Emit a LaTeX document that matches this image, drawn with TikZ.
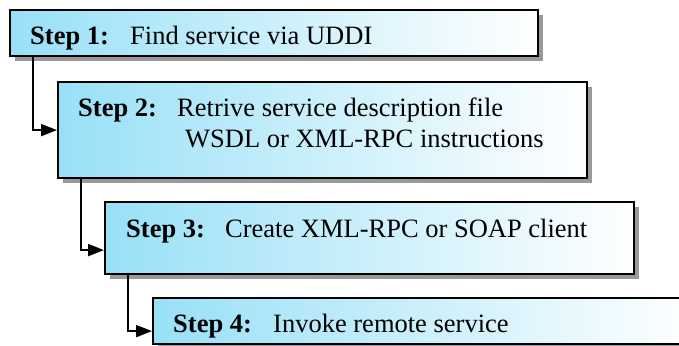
\documentclass[tikz,border=0pt]{standalone}
\usepackage{fontspec}
\setmainfont{Liberation Serif}
\usepackage{tikz}
\usetikzlibrary{arrows.meta,shadows}
\definecolor{stepcyan}{RGB}{152,224,247}

\begin{document}
\begin{tikzpicture}[x=1pt, y=-1pt,
  stepbox/.style={rectangle, draw, line width=2.2pt, anchor=north west, inner sep=0pt,
                  left color=stepcyan, right color=white,
                  drop shadow={shadow xshift=5pt, shadow yshift=-5pt, fill=black!40, opacity=1}},
  lbl/.style={anchor=base west, inner sep=0pt, font=\fontsize{26.5}{31}\selectfont},
  arr/.style={-{Triangle[length=16pt, width=12pt]}, line width=2pt}
]
\useasboundingbox (0,0) rectangle (679,345);
\clip (0,0) rectangle (679,345);

% Boxes
\node[stepbox, minimum width=528pt, minimum height=46pt] (s1) at (9,9)    {};
\node[stepbox, minimum width=529pt, minimum height=96pt] (s2) at (57,81)  {};
\node[stepbox, minimum width=529pt, minimum height=72pt] (s3) at (104,201) {};
\node[stepbox, minimum width=540pt, minimum height=46pt] (s4) at (152,297) {};

% Texts
\node[lbl] (h1) at (30,45)   {\textbf{Step 1:}};
\node[lbl] (d1) at (130,45)  {Find service via UDDI};
\node[lbl] (h2) at (78,116)  {\textbf{Step 2:}};
\node[lbl] (d2) at (177,116) {Retrive service description file};
\node[lbl] (e2) at (185,147) {WSDL or XML-RPC instructions};
\node[lbl] (h3) at (126,237) {\textbf{Step 3:}};
\node[lbl] (d3) at (225,237) {Create XML-RPC or SOAP client};
\node[lbl] (h4) at (173,332) {\textbf{Step 4:}};
\node[lbl] (d4) at (273,332) {Invoke remote service};

% Connectors
\draw[arr] ([xshift=24pt]s1.south west) |- (s2.west);
\draw[arr] ([xshift=24pt]s2.south west) |- ([yshift=-12pt]s3.west);
\draw[arr] ([xshift=24pt]s3.south west) |- ([yshift=-10pt]s4.west);

\end{tikzpicture}
\end{document}
